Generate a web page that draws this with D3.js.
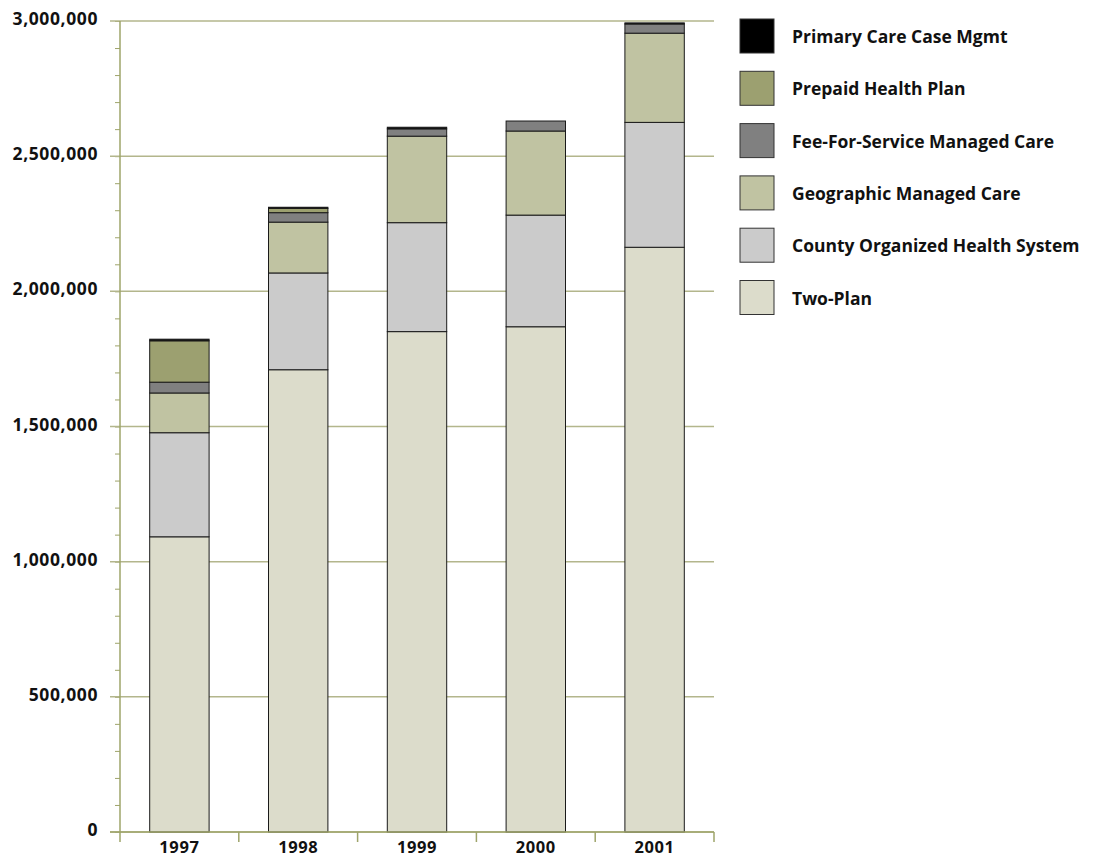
<!DOCTYPE html>
<html>
<head>
<meta charset="utf-8">
<script src="https://cdn.jsdelivr.net/npm/d3@7"></script>
<style>
  body { margin: 0; background: #fff; }
  text { font-family: "Open Sans", "Noto Sans", sans-serif; font-weight: bold; fill: #111; }
</style>
</head>
<body>
<svg></svg>
<script>
var years = ["1997", "1998", "1999", "2000", "2001"];

// enrollment per plan type, bottom of stack first
var twoPlan = [1092000, 1710000, 1851000, 1869000, 2163000];
var countyOrganized = [385000, 358000, 403000, 413000, 462000];
var geographic = [147000, 188000, 320000, 311000, 330000];
var feeForService = [40000, 35000, 27000, 37000, 34000];
var prepaid = [153000, 16000, 0, 0, 0];
var primaryCare = [6000, 4000, 6000, 0, 4000];

var seriesNames = ["Two-Plan", "County Organized Health System", "Geographic Managed Care",
                   "Fee-For-Service Managed Care", "Prepaid Health Plan", "Primary Care Case Mgmt"];
var seriesColors = ["#dcdccb", "#cbcbcb", "#c0c3a2", "#808080", "#9ca070", "#000000"];

var yTicks = [0, 500000, 1000000, 1500000, 2000000, 2500000, 3000000];

var margin = {top: 21, right: 385, bottom: 29, left: 120},
  width = 1099 - margin.left - margin.right,
  height = 861 - margin.top - margin.bottom;

var svg = d3.select("svg")
  .attr("width", 1099)
  .attr("height", 861)
  .append("g")
  .attr("transform", "translate(" + margin.left + "," + margin.top + ")");

var rows = years.map(function(y, i) {
  return {year: y, s0: twoPlan[i], s1: countyOrganized[i], s2: geographic[i],
          s3: feeForService[i], s4: prepaid[i], s5: primaryCare[i]};
});
var keys = ["s0", "s1", "s2", "s3", "s4", "s5"];
var stacked = d3.stack().keys(keys)(rows);

var x = d3.scaleBand().domain(years).range([0, width]).paddingInner(0.5).paddingOuter(0.25);
var y = d3.scaleLinear().domain([0, 3000000]).range([height, 0]);

// minor ticks every 100,000
svg.append("g")
  .call(d3.axisLeft(y).tickValues(d3.range(0, 3000001, 100000)).tickSize(5).tickFormat(""))
  .call(function(g) { g.select(".domain").remove(); })
  .selectAll("line").attr("stroke", "#9ea46a");

// gridlines
svg.append("g")
  .selectAll("line")
  .data(yTicks)
  .enter().append("line")
  .attr("x1", -10)
  .attr("x2", width)
  .attr("y1", function(d) { return y(d); })
  .attr("y2", function(d) { return y(d); })
  .attr("stroke", "#b3b68c")
  .attr("stroke-width", 1.5);

// y labels
svg.append("g")
  .selectAll("text")
  .data(yTicks)
  .enter().append("text")
  .attr("x", -22)
  .attr("y", function(d) { return y(d) - 2; })
  .attr("dy", "0.35em")
  .attr("text-anchor", "end")
  .style("font-size", "17.5px")
  .style("letter-spacing", "0.6px")
  .text(function(d) { return d3.format(",")(d); });

// bars
svg.append("g")
  .selectAll("g")
  .data(stacked)
  .enter().append("g")
  .attr("fill", function(d, i) { return seriesColors[i]; })
  .selectAll("rect")
  .data(function(d) { return d.filter(function(p) { return p[1] > p[0]; }); })
  .enter().append("rect")
  .attr("x", function(d) { return x(d.data.year); })
  .attr("y", function(d) { return y(d[1]); })
  .attr("width", x.bandwidth())
  .attr("height", function(d) { return y(d[0]) - y(d[1]); })
  .attr("stroke", "#1a1a1a")
  .attr("stroke-width", 1);

// y axis line
svg.append("line")
  .attr("x1", 0).attr("x2", 0)
  .attr("y1", 0).attr("y2", height)
  .attr("stroke", "#9ea46a")
  .attr("stroke-width", 1.5);

// x axis with boundary ticks
var bounds = d3.range(years.length + 1).map(function(i) { return i * x.step(); });
svg.append("line")
  .attr("x1", -10).attr("x2", width)
  .attr("y1", height).attr("y2", height)
  .attr("stroke", "#9ea46a")
  .attr("stroke-width", 1.5);
svg.append("g")
  .selectAll("line")
  .data(bounds)
  .enter().append("line")
  .attr("x1", function(d) { return d; })
  .attr("x2", function(d) { return d; })
  .attr("y1", height)
  .attr("y2", height + 10)
  .attr("stroke", "#9ea46a")
  .attr("stroke-width", 1.5);
svg.append("g")
  .selectAll("text")
  .data(years)
  .enter().append("text")
  .attr("x", function(d) { return x(d) + x.bandwidth() / 2; })
  .attr("y", height + 21)
  .attr("text-anchor", "middle")
  .style("font-size", "16.5px")
  .style("letter-spacing", "0.6px")
  .text(function(d) { return d; });

// legend, top series first
var legendOrder = d3.range(seriesNames.length).reverse();
var legend = d3.select("svg").append("g")
  .attr("transform", "translate(740,19)");
var item = legend.selectAll("g")
  .data(legendOrder)
  .enter().append("g")
  .attr("transform", function(d, i) { return "translate(0," + (i * 52.3) + ")"; });
item.append("rect")
  .attr("width", 34)
  .attr("height", 34)
  .attr("fill", function(d) { return seriesColors[d]; })
  .attr("stroke", "#333")
  .attr("stroke-width", 1);
item.append("text")
  .attr("x", 52)
  .attr("y", 18)
  .attr("dy", "0.35em")
  .style("font-size", "17.5px")
  .text(function(d) { return seriesNames[d]; });
</script>
</body>
</html>
